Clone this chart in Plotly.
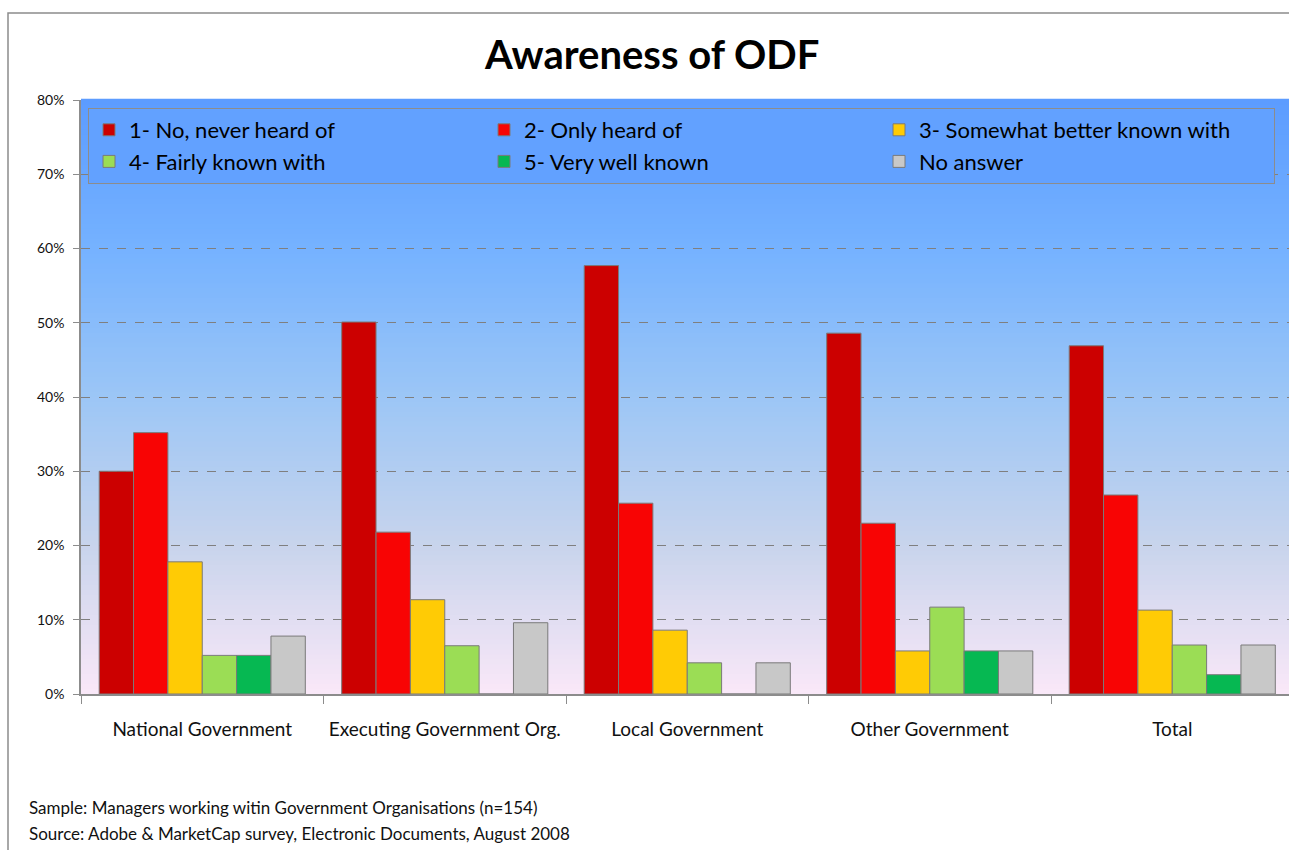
import plotly.graph_objects as go

categories = ["National Government", "Executing Government Org.", "Local Government",
              "Other Government", "Total"]
series_names = ["1- No, never heard of", "2- Only heard of", "3- Somewhat better known with",
                "4- Fairly known with", "5- Very well known", "No answer"]
s1_never = [30.0, 50.1, 57.7, 48.6, 46.9]
s2_only = [35.2, 21.8, 25.7, 23.0, 26.8]
s3_somewhat = [17.8, 12.7, 8.6, 5.8, 11.3]
s4_fairly = [5.2, 6.5, 4.2, 11.7, 6.6]
s5_very = [5.2, 0.0, 0.0, 5.8, 2.6]
s6_noanswer = [7.8, 9.6, 4.2, 5.8, 6.6]
y_ticks = [0, 10, 20, 30, 40, 50, 60, 70, 80]
y_tick_labels = [f"{v}%" for v in y_ticks]

series_values = [s1_never, s2_only, s3_somewhat, s4_fairly, s5_very, s6_noanswer]
colors = ["#CC0000", "#F80404", "#FFCB05", "#9BDD55", "#06B852", "#C8C8C8"]

W, H = 1289, 850
L, R, T, B = 81, 0, 100, 156
plot_w = W - L - R
plot_h = H - T - B

FONT = "Lato, Carlito, 'Open Sans', sans-serif"

fig = go.Figure()

# gradient background made of thin bands
stops = [(0.0, (250, 232, 248)), (0.25, (200, 212, 236)), (0.5, (156, 198, 246)),
         (0.75, (117, 178, 255)), (1.0, (92, 156, 255))]


def col_at(f):
    for i in range(len(stops) - 1):
        f0, c0 = stops[i]
        f1, c1 = stops[i + 1]
        if f0 <= f <= f1:
            t = (f - f0) / (f1 - f0)
            return "rgb(%d,%d,%d)" % tuple(round(c0[k] + (c1[k] - c0[k]) * t) for k in range(3))
    return "rgb(%d,%d,%d)" % stops[-1][1]


n_bands = 120
shapes = []
for i in range(n_bands):
    f0 = i / n_bands
    f1 = (i + 1) / n_bands
    shapes.append(dict(type="rect", xref="paper", yref="paper", x0=0, x1=1.01, y0=f0, y1=f1 + 0.002,
                       fillcolor=col_at((f0 + f1) / 2), line=dict(width=0), layer="below"))

# outer chart border (left and top lines)
bx = (8 - L) / plot_w
by = 1 + (T - 13) / plot_h
shapes.append(dict(type="path", xref="paper", yref="paper",
                   path=f"M {bx},-0.5 L {bx},{by} L 1.2,{by}",
                   line=dict(color="#8c8c8c", width=1.5)))

for name, vals, c in zip(series_names, series_values, colors):
    fig.add_trace(go.Bar(
        x=categories, y=vals, name=name,
        marker=dict(color=c, line=dict(color="#7a7a7a", width=1)),
    ))

fig.update_layout(
    width=W, height=H,
    margin=dict(l=L, r=R, t=T, b=B),
    paper_bgcolor="white",
    plot_bgcolor="rgba(0,0,0,0)",
    barmode="group",
    bargap=0.15,
    bargroupgap=0,
    font=dict(family=FONT, color="#111"),
    title=dict(text="<b>Awareness of ODF</b>", x=0.506, xref="container", xanchor="center",
               y=1 - 55 / H, yref="container", yanchor="middle",
               font=dict(size=40, family=FONT, color="black")),
    shapes=shapes,
    legend=dict(orientation="h", x=(88 - L) / plot_w, y=1 - 8 / plot_h,
                xanchor="left", yanchor="top",
                bgcolor="#62A1FF", bordercolor="#8c8c8c", borderwidth=1,
                font=dict(size=22, family=FONT, color="black"),
                entrywidth=350, entrywidthmode="pixels", itemwidth=30,
                traceorder="normal"),
    xaxis=dict(range=[-0.5, 4.5 - 4.5 / 242.5], tickson="boundaries", ticks="outside", ticklen=8,
               tickcolor="#8c8c8c", showline=True, linecolor="#8c8c8c", linewidth=1.5,
               ticklabelstandoff=17,
               tickfont=dict(size=19, family=FONT, color="#111"), showgrid=False, fixedrange=True),
    yaxis=dict(range=[0, 80], tickmode="array", tickvals=y_ticks, ticktext=y_tick_labels,
               ticks="outside", ticklen=6, ticklabelstandoff=6,
               tickcolor="#8c8c8c", showline=True, linecolor="#8c8c8c", linewidth=1.5,
               showgrid=True, gridcolor="#7f7f7f", griddash="dash", gridwidth=1,
               zeroline=False, tickfont=dict(size=14, family=FONT, color="#111")),
    annotations=[
        dict(text="Sample: Managers working witin Government Organisations (n=154)",
             xref="paper", yref="paper", x=(27 - L) / plot_w, y=-(808 - (T + plot_h)) / plot_h,
             xanchor="left", yanchor="middle", showarrow=False,
             font=dict(size=17, family=FONT, color="#111")),
        dict(text="Source: Adobe &amp; MarketCap survey, Electronic Documents, August 2008",
             xref="paper", yref="paper", x=(27 - L) / plot_w, y=-(833 - (T + plot_h)) / plot_h,
             xanchor="left", yanchor="middle", showarrow=False,
             font=dict(size=17, family=FONT, color="#111")),
    ],
)

fig.write_html("out.html", config={"displayModeBar": False},
               post_script="document.body.style.margin='0';")
